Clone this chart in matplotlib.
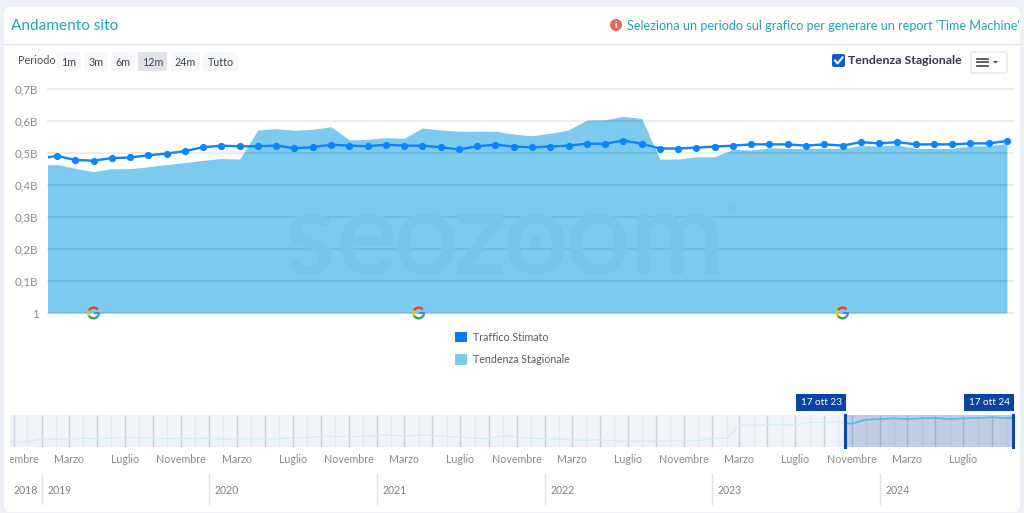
import numpy as np
import pandas as pd
import matplotlib
matplotlib.use('Agg')
import matplotlib.pyplot as plt
import matplotlib.dates as mdates
import matplotlib.patheffects as pe
from matplotlib.patches import FancyBboxPatch, Rectangle, Wedge, Circle, Polygon
from matplotlib.ticker import FuncFormatter
from matplotlib.transforms import Bbox

plt.rcParams['font.family'] = ['Lato', 'DejaVu Sans']

#MAIN CHART DATA (weekly, in billions)
weeks = np.arange(-1, 53)
traffico = [0.482, 0.491, 0.478, 0.476, 0.484, 0.486, 0.493, 0.498, 0.506, 0.518, 0.523, 0.521, 0.521, 0.523,
            0.515, 0.518, 0.526, 0.523, 0.521, 0.526, 0.523, 0.523, 0.518, 0.511, 0.521, 0.526, 0.520, 0.518,
            0.520, 0.523, 0.529, 0.529, 0.539, 0.529, 0.514, 0.514, 0.517, 0.520, 0.523, 0.527, 0.527, 0.527,
            0.523, 0.527, 0.523, 0.534, 0.530, 0.534, 0.527, 0.527, 0.527, 0.530, 0.530, 0.5375]
tendenza = [0.462, 0.464, 0.452, 0.442, 0.451, 0.451, 0.457, 0.464, 0.470, 0.477, 0.483, 0.481, 0.572, 0.576,
            0.571, 0.574, 0.582, 0.541, 0.5425, 0.548, 0.546, 0.578, 0.572, 0.568, 0.568, 0.568, 0.559, 0.554,
            0.5615, 0.572, 0.603, 0.604, 0.6145, 0.608, 0.481, 0.481, 0.488, 0.4885, 0.5115, 0.509, 0.5165,
            0.5145, 0.5135, 0.5155, 0.5135, 0.523, 0.522, 0.525, 0.5145, 0.5145, 0.5145, 0.522, 0.522, 0.530]
y_ticks = [0, 0.1, 0.2, 0.3, 0.4, 0.5, 0.6, 0.7]
flag_weeks = [2, 19.8, 43]

#NAVIGATOR DATA (monthly, in billions)
nav_dates = ['2018-10-24'] + list(pd.date_range('2018-11-01', '2024-10-01', freq='MS').strftime('%Y-%m-%d')) + ['2024-10-17']
nav_dates = pd.to_datetime(nav_dates)
nav_values = [0.101, 0.101, 0.101, 0.158, 0.145, 0.145, 0.164, 0.158, 0.164, 0.183, 0.177, 0.164, 0.158, 0.164,
              0.158, 0.164, 0.152, 0.145, 0.158, 0.152, 0.158, 0.170, 0.177, 0.196, 0.196, 0.196, 0.196, 0.221,
              0.221, 0.208, 0.221, 0.221, 0.196, 0.189, 0.164, 0.158, 0.208, 0.189, 0.164, 0.158, 0.152, 0.133,
              0.126, 0.139, 0.114, 0.107, 0.114, 0.107, 0.114, 0.114, 0.120, 0.164, 0.164, 0.410, 0.410, 0.417,
              0.423, 0.410, 0.461, 0.461, 0.467, 0.436, 0.511, 0.524, 0.537, 0.524, 0.537, 0.543, 0.524, 0.537,
              0.543, 0.556, 0.543, 0.543]
year_labels = ['2018', '2019', '2020', '2021', '2022', '2023', '2024']
month_names = {3: 'Marzo', 7: 'Luglio', 11: 'Novembre'}
sel_start = pd.Timestamp('2023-10-17')
sel_end = pd.Timestamp('2024-10-17')

W, H = 1024, 513
fig = plt.figure(figsize=(W / 100, H / 100), dpi=100, facecolor='#EEF0F7')

def px_axes(x0, y0, x1, y1, **kw):
    return fig.add_axes([x0 / W, 1 - y1 / H, (x1 - x0) / W, (y1 - y0) / H], **kw)

#BACKGROUND CARD AND HEADER
bg = px_axes(0, 0, W, H, zorder=0)
bg.set_xlim(0, W)
bg.set_ylim(H, 0)
bg.axis('off')
bg.add_patch(FancyBboxPatch((4, 7), 1016, 505, boxstyle='round,pad=0,rounding_size=6', fc='white', ec='none'))
bg.plot([4, 1020], [44, 44], color='#E4E6EA', lw=1)
bg.text(11, 26.5, 'Andamento sito', color='#27A3B7', fontsize=11.1, va='center')
bg.add_patch(Circle((616, 25), 6, fc='#E5685F', ec='none'))
bg.text(616, 25, 'i', color='white', fontsize=7, fontweight='bold', ha='center', va='center')
bg.text(627, 25.5, "Seleziona un periodo sul grafico per generare un report 'Time Machine'", color='#22A3B5', fontsize=9.05, va='center')

bg.text(18, 61, 'Periodo', color='#4A4F58', fontsize=7.8, va='center')
buttons = [('1m', 57, 81), ('3m', 84, 108), ('6m', 111, 135), ('12m', 138, 167), ('24m', 171, 200), ('Tutto', 203, 238)]
for label, x0, x1 in buttons:
    col = '#E0E3E7' if label == '12m' else '#F7F8F9'
    bg.add_patch(FancyBboxPatch((x0, 52), x1 - x0, 19, boxstyle='round,pad=0,rounding_size=2', fc=col, ec='none'))
    bg.text((x0 + x1) / 2, 62, label, color='#3F4650', fontsize=7.7, ha='center', va='center')

bg.add_patch(FancyBboxPatch((832, 54), 13, 13, boxstyle='round,pad=0,rounding_size=2', fc='#0D5BD6', ec='none'))
bg.plot([835, 837.5, 842.5], [60.5, 63.5, 57.5], color='white', lw=1.5)
bg.text(848, 61, 'Tendenza Stagionale', color='#343A4A', fontsize=8.9, fontweight='bold', va='center')
bg.add_patch(FancyBboxPatch((971, 52), 36, 21, boxstyle='round,pad=0,rounding_size=2', fc='white', ec='#E2E5E9', lw=1))
for yy in [58.5, 62, 65.5]:
    bg.plot([977, 988], [yy, yy], color='#444444', lw=1.2)
bg.add_patch(Polygon([[993, 61], [998, 61], [995.5, 63.5]], fc='#444444', ec='none'))

#MAIN CHART
ax = px_axes(48, 89, 1013, 313, zorder=2)
ax.patch.set_alpha(0)
ax.set_xlim(-0.493, 52.33)
ax.set_ylim(0, 0.7)
ax.fill_between(weeks, tendenza, 0, color='#7CCBEE', lw=0, zorder=2)
for t in y_ticks:
    ax.axhline(t, color='black', alpha=0.07, lw=1.5, zorder=3, clip_on=False)
ax.plot(weeks, traffico, color='#0A84FF', lw=1.7, marker='o', ms=5.2, mew=0, zorder=5)
ax.set_yticks(y_ticks)
ax.yaxis.set_major_formatter(FuncFormatter(lambda v, p: '1' if v == 0 else f'{v:.1f}B'.replace('.', ',')))
ax.tick_params(axis='y', length=0, pad=7, labelsize=8.3, labelcolor='#8A8A8A')
ax.set_xticks([])
for s in ax.spines.values():
    s.set_visible(False)

leg_handles = [Rectangle((0, 0), 1, 1, fc='#0A7AFF'), Rectangle((0, 0), 1, 1, fc='#7CCBEE')]
fig.legend(leg_handles, ['Traffico Stimato', 'Tendenza Stagionale'], loc='upper left', bbox_to_anchor=(445 / W, 1 - 322 / H),
           frameon=False, fontsize=7.7, labelcolor='#555B66', handlelength=1.15, handleheight=1.15, handletextpad=0.55,
           labelspacing=1.05, borderpad=0.4)

#NAVIGATOR
nav = px_axes(10, 415, 1013, 447, zorder=2)
nav.set_facecolor('#F0F4F9')
nav.set_xlim(nav_dates[0], nav_dates[-1])
nav.set_ylim(0, 0.6)
for s in nav.spines.values():
    s.set_visible(False)
nav.set_yticks([])
xtrans = nav.get_xaxis_transform()
months = pd.date_range('2018-11-01', '2024-10-01', freq='MS')
nav.vlines(months[months.month % 2 == 1], 0, 1, transform=xtrans, color='#CDD2D9', lw=1, zorder=1)
nav.vlines(months[months.month % 2 == 0], 0, 1, transform=xtrans, color='#E4E8ED', lw=1, zorder=1)
nav.plot(nav_dates, nav_values, color='#D3ECFA', lw=1, zorder=2)
span = nav.axvspan(sel_start, sel_end, color='#003399', alpha=0.2, lw=0, zorder=3)
sel_line, = nav.plot(nav_dates, nav_values, color='#5ABBEB', lw=1.2, zorder=4)
sel_line.set_clip_path(span)
for d, lab in [(sel_start, '17 ott 23'), (sel_end, '17 ott 24')]:
    nav.plot([d, d], [0, 1], transform=xtrans, color='#0A47A9', lw=2.2, zorder=6, clip_on=False)
    nav.annotate(lab, (mdates.date2num(d), 1), xycoords=xtrans, xytext=(-2.5, 9), textcoords='offset points', color='white',
                 fontsize=7.2, ha='right', va='center', zorder=7, annotation_clip=False,
                 bbox=dict(boxstyle='square,pad=0.42', fc='#0A44A4', ec='none'))

nav.xaxis.set_major_locator(mdates.MonthLocator(bymonth=[3, 7, 11]))
nav.xaxis.set_major_formatter(FuncFormatter(lambda v, p: month_names[mdates.num2date(v).month]))
nav.tick_params(axis='x', length=0, pad=5, labelsize=7.7, labelcolor='#8A8A8A')
fig.canvas.draw()
for lab in nav.get_xticklabels():
    lab.set_clip_box(Bbox([[10, 0], [W, H]]))
    lab.set_clip_on(True)

for y in year_labels:
    if y == '2018':
        nav.annotate(y, (mdates.date2num(pd.Timestamp('2019-01-01')), -1.37), xycoords=xtrans, xytext=(-3, 0), textcoords='offset points',
                     color='#808080', fontsize=7.6, ha='right', va='center', annotation_clip=False)
    else:
        d = pd.Timestamp(y + '-01-01')
        nav.plot([d, d], [-0.85, -1.78], transform=xtrans, color='#E0E3E7', lw=1, clip_on=False)
        nav.annotate(y, (mdates.date2num(d), -1.37), xycoords=xtrans, xytext=(4, 0), textcoords='offset points',
                     color='#808080', fontsize=7.6, ha='left', va='center', annotation_clip=False)

#OVERLAY - WATERMARK AND GOOGLE FLAGS
top = px_axes(0, 0, W, H, zorder=3)
top.patch.set_alpha(0)
top.set_xlim(0, W)
top.set_ylim(H, 0)
top.axis('off')
wm = '#73C5EA'
for letter, xc in [('s', 310), ('e', 367), ('o', 426), ('z', 480), ('o', 536), ('o', 598), ('m', 677)]:
    top.text(xc, 273, letter, color=wm, fontsize=82, ha='center', va='baseline',
             path_effects=[pe.withStroke(linewidth=1.5, foreground=wm)])
top.add_patch(Circle((535, 242), 6, fc=wm, ec='none'))
top.text(731, 210, '®', color=wm, fontsize=11, ha='center', va='center')

for w in flag_weeks:
    px, py = ax.transData.transform((w, 0))
    cx, cy = px, H - py
    for a0, a1, c in [(210, 320, '#EA4335'), (150, 210, '#FBBC05'), (40, 150, '#34A853'), (0, 40, '#4285F4')]:
        top.add_patch(Wedge((cx, cy), 6.5, a0, a1, width=2.4, fc=c, ec='none'))
    top.add_patch(Rectangle((cx, cy - 1.2), 6.5, 2.4, fc='#4285F4', ec='none'))

fig.savefig('out.png', dpi=100, facecolor=fig.get_facecolor())
